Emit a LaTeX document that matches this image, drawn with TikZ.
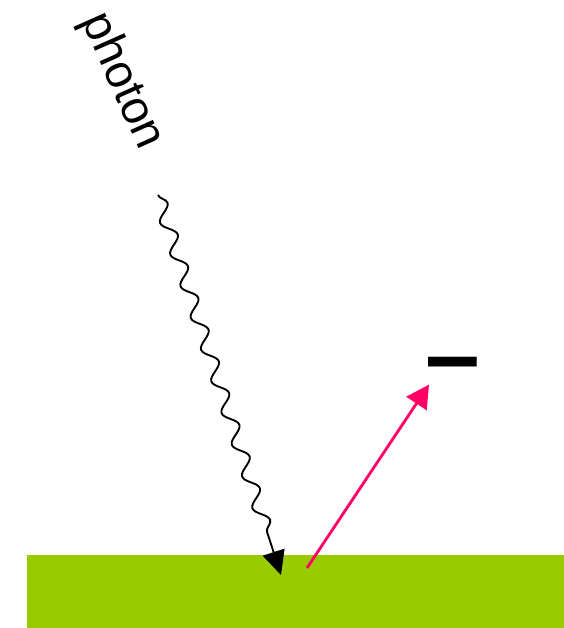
\documentclass[tikz,border=0pt]{standalone}
\usepackage{fontspec}
\setmainfont{Liberation Sans}
\usepackage{xcolor}
\usetikzlibrary{decorations.pathmorphing,arrows.meta}
\definecolor{PEGreen}{HTML}{99CC00}
\definecolor{PEPink}{HTML}{FF0066}

\begin{document}
\begin{tikzpicture}[x=1cm,y=1cm]
\path[use as bounding box] (0,0) rectangle (16.92,18.84);
\fill[PEGreen] (0.81,0) rectangle (16.92,2.19);
\coordinate (photonstart) at (4.74,12.99);
\coordinate (hit) at (8.43,1.59);
\coordinate (emit) at (9.21,1.80);
\coordinate (escape) at (12.87,7.30);
\node[anchor=center,rotate=-66,inner sep=0pt] (photonlabel) at (3.66,16.40) {\fontsize{40}{48}\selectfont photon};
\node[anchor=base,inner sep=0pt] (charge) at (13.59,7.17) {\fontsize{84}{90}\selectfont\bfseries –};
\draw[line width=1.6pt,-{Triangle[length=0.72cm,width=0.68cm]},decorate,
  decoration={snake,amplitude=0.2cm,segment length=1cm,post length=1.2cm}] (photonstart) -- (hit);
\draw[PEPink,line width=2.4pt,-{Triangle[length=0.68cm,width=0.72cm]}] (emit) -- (escape);
\end{tikzpicture}
\end{document}
